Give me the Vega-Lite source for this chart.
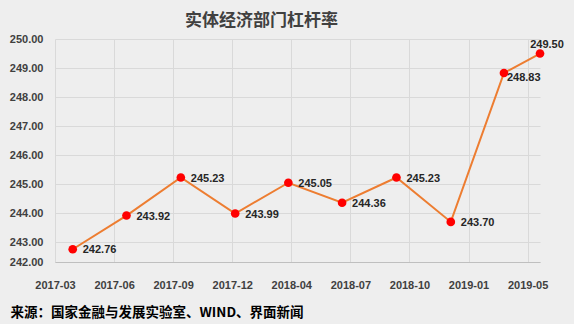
{
  "$schema": "https://vega.github.io/schema/vega-lite/v6.json",
  "width": 485,
  "height": 223,
  "autosize": {"type": "none"},
  "padding": {"left": 55, "top": 39, "right": 34, "bottom": 62},
  "background": "#EEEEEE",
  "config": {
    "view": {"stroke": null},
    "font": "Liberation Sans"
  },
  "title": {
    "text": "实体经济部门杠杆率",
    "font": "Noto Sans CJK SC",
    "fontSize": 17,
    "fontWeight": "bold",
    "color": "#404040",
    "anchor": "middle",
    "frame": "group",
    "dx": -36,
    "offset": 3
  },
  "data": {
    "values": [
      {"date": "2017-03-31", "value": 242.76},
      {"date": "2017-06-30", "value": 243.92},
      {"date": "2017-09-30", "value": 245.23},
      {"date": "2017-12-31", "value": 243.99},
      {"date": "2018-03-31", "value": 245.05},
      {"date": "2018-06-30", "value": 244.36},
      {"date": "2018-09-30", "value": 245.23},
      {"date": "2018-12-31", "value": 243.70},
      {"date": "2019-03-31", "value": 248.83},
      {"date": "2019-05-31", "value": 249.50}
    ]
  },
  "encoding": {
    "x": {
      "field": "date",
      "type": "temporal",
      "scale": {
        "type": "utc",
        "domain": [
          {"year": 2017, "month": 3, "date": 1, "utc": true},
          {"year": 2019, "month": 5, "date": 31, "utc": true}
        ]
      },
      "axis": {
        "values": [
          {"year": 2017, "month": 3, "date": 1, "utc": true},
          {"year": 2017, "month": 6, "date": 9, "utc": true},
          {"year": 2017, "month": 9, "date": 17, "utc": true},
          {"year": 2017, "month": 12, "date": 26, "utc": true},
          {"year": 2018, "month": 4, "date": 5, "utc": true},
          {"year": 2018, "month": 7, "date": 14, "utc": true},
          {"year": 2018, "month": 10, "date": 22, "utc": true},
          {"year": 2019, "month": 1, "date": 30, "utc": true},
          {"year": 2019, "month": 5, "date": 10, "utc": true}
        ],
        "labelExpr": "utcFormat(datum.value, '%Y-%m')",
        "labelFlush": false,
        "labelOverlap": false,
        "ticks": false,
        "tickSize": 0,
        "labelPadding": 17,
        "labelFont": "Liberation Sans",
        "labelFontSize": 11,
        "labelFontWeight": "bold",
        "labelColor": "#404040",
        "grid": true,
        "gridColor": "#D9D9D9",
        "gridWidth": 1,
        "domain": true,
        "domainColor": "#BFBFBF",
        "domainWidth": 1,
        "title": "来源：国家金融与发展实验室、WIND、界面新闻",
        "titleFont": "Noto Sans CJK SC",
        "titleFontSize": 13.5,
        "titleFontWeight": "bold",
        "titleColor": "#000000",
        "titleAnchor": "start",
        "titleAlign": "left",
        "titleBaseline": "middle",
        "titleX": -45,
        "titleY": 50
      }
    },
    "y": {
      "field": "value",
      "type": "quantitative",
      "scale": {"domain": [242.32, 250], "nice": false, "zero": false},
      "axis": {
        "values": [242.32, 243, 244, 245, 246, 247, 248, 249, 250],
        "labelExpr": "datum.value < 242.5 ? '242.00' : format(datum.value, '.2f')",
        "ticks": false,
        "tickSize": 0,
        "labelPadding": 12,
        "labelFont": "Liberation Sans",
        "labelFontSize": 11,
        "labelFontWeight": "bold",
        "labelColor": "#404040",
        "grid": true,
        "gridColor": "#D9D9D9",
        "domain": false,
        "title": null
      }
    }
  },
  "layer": [
    {
      "mark": {"type": "line", "color": "#ED7D31", "strokeWidth": 2}
    },
    {
      "mark": {"type": "point", "filled": true, "color": "#FF0000", "opacity": 1, "size": 75}
    },
    {
      "transform": [{"filter": "datum.value < 248"}],
      "mark": {"type": "text", "align": "left", "baseline": "middle", "dx": 10, "dy": 1, "font": "Liberation Sans", "fontSize": 11, "fontWeight": "bold", "color": "#262626"},
      "encoding": {"text": {"field": "value", "type": "quantitative", "format": ".2f"}}
    },
    {
      "transform": [{"filter": "datum.value > 248 && datum.value < 249"}],
      "mark": {"type": "text", "align": "left", "baseline": "middle", "dx": 3, "dy": 5, "font": "Liberation Sans", "fontSize": 11, "fontWeight": "bold", "color": "#262626"},
      "encoding": {"text": {"field": "value", "type": "quantitative", "format": ".2f"}}
    },
    {
      "transform": [{"filter": "datum.value > 249"}],
      "mark": {"type": "text", "align": "center", "baseline": "middle", "dx": 7, "dy": -9, "font": "Liberation Sans", "fontSize": 11, "fontWeight": "bold", "color": "#262626"},
      "encoding": {"text": {"field": "value", "type": "quantitative", "format": ".2f"}}
    }
  ]
}
